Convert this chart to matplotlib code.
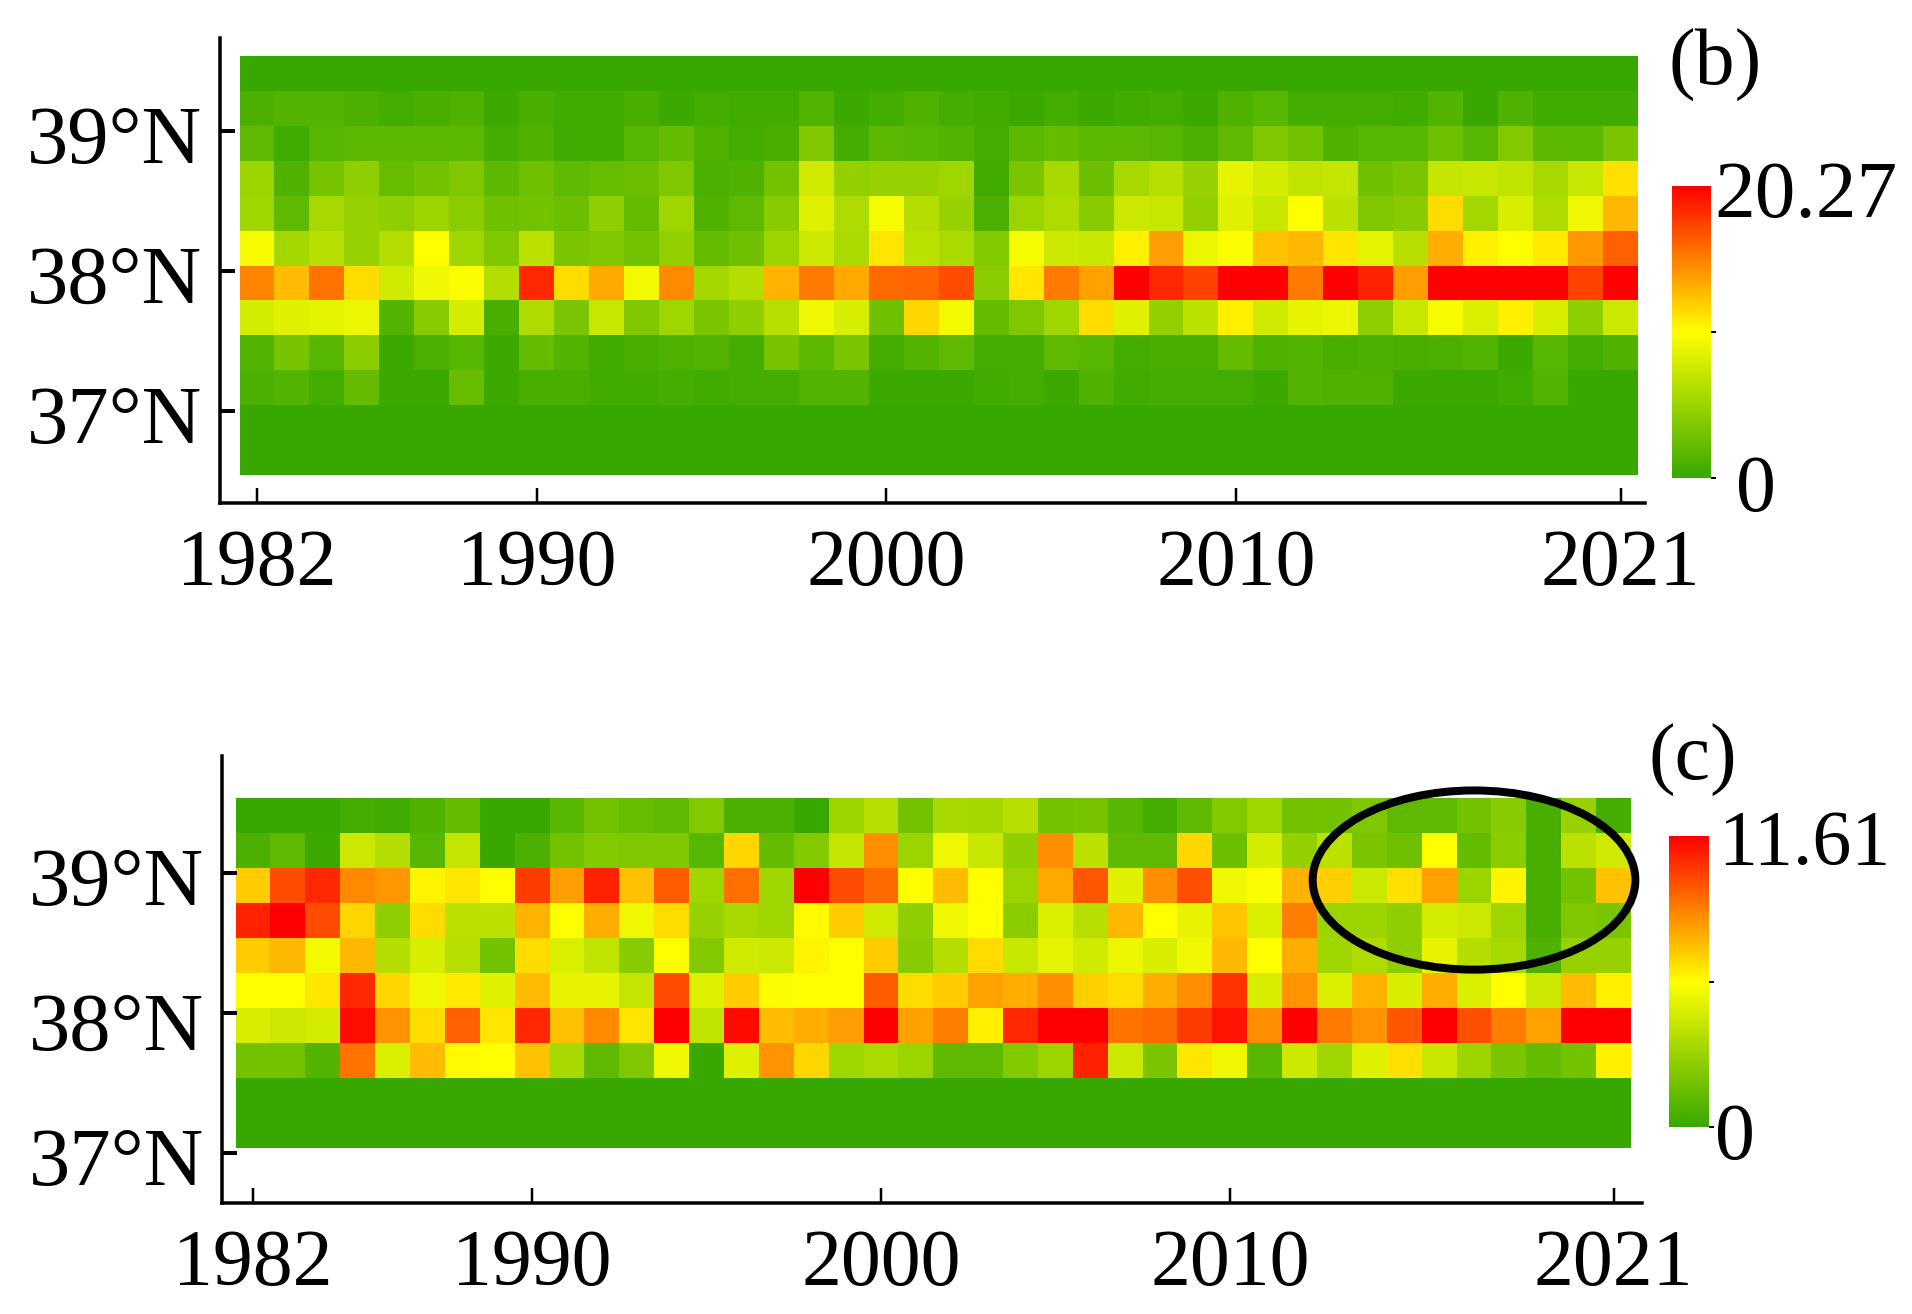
import numpy as np
import matplotlib
matplotlib.use('Agg')
import matplotlib.pyplot as plt
from matplotlib.colors import LinearSegmentedColormap
from matplotlib.patches import Ellipse
from matplotlib.transforms import ScaledTranslation

plt.rcParams['font.family'] = ['Liberation Serif', 'DejaVu Serif']

W, H = 1912, 1314

years = np.arange(1982, 2022)
year_ticks = [1982, 1990, 2000, 2010, 2021]
lat_ticks = [37, 38, 39]
lat_labels = ['37°N', '38°N', '39°N']
max_b = 20.27
max_c = 11.61

# in % of each colour bar, north to south, 1982-2021
zero_row = [0] * 40
rows_b = [
    zero_row,
    [5,7,7,5,3,4,6,1,4,2,2,4,1, 3,2,2,7,1,3,6,3,2,1,3,1,2, 3,1,6,8,3,3,3,2,7,0,6,2,2,2],
    [10,2,8,9,9,9,9,3,6,2,2,8,11, 6,3,4,18,3,9,8,7,3,9,11,9,9, 8,5,10,18,15,6,8,8,14,8,19,9,9,17],
    [25,6,16,22,12,15,18,9,14,10,12,13,18, 5,6,15,38,23,24,24,26,2,17,28,13,28, 32,24,44,39,34,35,14,17,35,36,34,28,36,56],
    [26,10,28,24,22,25,21,14,15,13,22,11,26, 6,10,20,42,30,48,31,24,5,25,30,20,37, 36,23,42,36,50,33,18,20,57,27,40,30,46,64],
    [48,27,32,24,31,50,26,18,33,17,18,15,23, 11,14,25,37,29,55,33,29,19,48,37,36,53, 69,45,49,62,64,55,43,32,66,53,50,54,70,81],
    [74,63,77,57,38,46,49,31,92,57,67,47,73, 27,31,65,76,67,79,80,85,21,55,76,68,100, 92,87,100,100,76,100,93,69,100,100,100,100,87,100],
    [39,42,43,45,7,20,39,4,30,17,36,18,26, 17,22,32,46,40,14,58,47,11,18,26,57,42, 23,33,53,38,44,45,22,36,48,41,53,40,22,37],
    [7,16,8,21,1,5,8,1,11,7,2,4,6, 7,3,16,9,17,3,7,10,3,3,10,8,3, 4,4,11,6,7,4,5,4,5,7,1,8,3,6],
    [5,7,3,11,1,1,12,1,4,4,2,2,3, 2,3,3,7,7,1,1,1,2,3,1,6,2, 3,3,3,1,7,6,6,1,1,1,2,7,0,0],
    zero_row,
    zero_row,
]
rows_c = [
    [0,0,0,3,2,6,11,0,0,8,15,12,10, 19,5,5,0,25,32,15,28,27,32,15,16,8, 3,10,19,26,15,15,18,10,10,15,20,4,24,3],
    [5,10,1,37,31,8,35,0,5,15,19,18,18, 8,58,11,19,35,72,25,46,36,22,72,33,10, 10,58,13,39,23,33,17,14,50,11,21,4,33,38],
    [60,85,92,73,70,52,55,50,88,69,93,62,82, 26,78,26,100,85,79,50,63,50,25,67,83,42, 72,84,46,49,65,59,37,56,68,25,52,4,15,62],
    [93,100,85,58,22,57,33,33,65,50,66,46,57, 24,28,26,51,60,38,22,46,50,21,41,32,64, 50,44,61,41,75,25,25,22,39,37,26,4,18,17],
    [60,64,47,64,31,40,32,15,57,41,34,20,50, 19,38,37,52,50,60,20,31,57,36,43,38,45, 40,46,64,50,66,26,30,22,44,31,28,6,24,24],
    [50,50,55,92,58,46,54,42,63,44,44,35,85, 42,60,49,50,50,82,57,60,68,66,72,59,57, 66,72,90,40,71,41,65,40,66,41,50,37,63,53],
    [40,37,39,97,71,57,81,55,92,62,73,55,100, 34,98,63,66,69,100,68,75,53,92,100,100,77, 79,88,96,72,100,76,71,83,100,84,75,68,100,100],
    [15,15,7,77,41,63,51,50,62,28,10,18,46, 0,42,71,58,26,29,25,10,10,19,25,93,37, 17,55,46,8,37,26,42,56,36,25,17,11,15,53],
    zero_row,
    zero_row,
]

cmap = LinearSegmentedColormap.from_list('gyr', ['#38a800', '#ffff00', '#ff0000'])
fontsize = 57.5
px = 0.72  # points per pixel at dpi 100


def add_axes_px(fig, left, right, top, bottom):
    return fig.add_axes([left / W, 1 - bottom / H, (right - left) / W, (bottom - top) / H])


def draw_panel(fig, rows, vmax, box, heat, lat_top, bar, label_drop):
    left, right, top, bottom = box
    hl, hr, ht, hb = heat
    data = np.array(rows) / 100 * vmax
    nrow = data.shape[0]
    ax = add_axes_px(fig, left, right, top, bottom)
    x_edges = np.append(years, years[-1] + 1) - 0.5
    y_edges = lat_top - 0.25 * np.arange(nrow + 1)
    mesh = ax.pcolormesh(x_edges, y_edges, data, cmap=cmap, vmin=0, vmax=vmax,
                         shading='flat', antialiased=False)
    xscale = (hr - hl) / 40
    yscale = (hb - ht) / (0.25 * nrow)
    ax.set_xlim(1981.5 + (left - hl) / xscale, 1981.5 + (right - hl) / xscale)
    ax.set_ylim(lat_top - (bottom - ht) / yscale, lat_top - (top - ht) / yscale)
    for side in ['top', 'right']:
        ax.spines[side].set_visible(False)
    for side in ['left', 'bottom']:
        ax.spines[side].set_linewidth(3.5 * px)
    ax.set_xticks(year_ticks)
    ax.set_xticklabels([str(y) for y in year_ticks], fontsize=fontsize)
    ax.set_yticks(lat_ticks)
    ax.set_yticklabels(lat_labels, fontsize=59.5)
    ax.tick_params(axis='x', direction='in', length=15 * px, width=2.5 * px, pad=19)
    ax.tick_params(axis='y', direction='in', length=15 * px, width=4 * px, pad=13)
    # the latitude labels sit a little below their ticks in the original
    for lab, drop in zip(ax.get_yticklabels(), label_drop):
        lab.set_transform(lab.get_transform()
                          + ScaledTranslation(0, -drop / 100, fig.dpi_scale_trans))

    cax = add_axes_px(fig, *bar)
    cb = fig.colorbar(mesh, cax=cax, ticks=[0, vmax / 2])
    cb.outline.set_visible(False)
    cb.ax.tick_params(length=5 * px, width=2 * px, labelright=False)
    return ax


fig = plt.figure(figsize=(W / 100, H / 100), dpi=100)

ax_b = draw_panel(fig, rows_b, max_b, (220, 1645, 38, 503), (239.5, 1638, 56, 475),
                  39.54, (1671.5, 1710.5, 186, 478), (3, 3, 3))
ax_c = draw_panel(fig, rows_c, max_c, (222, 1642, 756, 1203), (235.6, 1631, 798, 1148),
                  39.536, (1668.6, 1709, 836, 1127), (3, 8, 3))

ax_c.add_patch(Ellipse((2017.0, 38.95), 9.25, 1.28, fill=False, edgecolor='black',
                       linewidth=8 * px, clip_on=False, zorder=5))


def text_px(x, y, s, ha='left', size=fontsize):
    fig.text(x / W, 1 - y / H, s, fontsize=size, ha=ha, va='center')


text_px(1669, 65, '(b)')
text_px(1714, 197, '20.27', size=58.5)
text_px(1756, 491, '0', ha='center')
text_px(1648, 760, '(c)')
text_px(1718, 845, '11.61', size=56)
text_px(1735, 1139, '0', ha='center')

fig.savefig('out.png', dpi=100)
